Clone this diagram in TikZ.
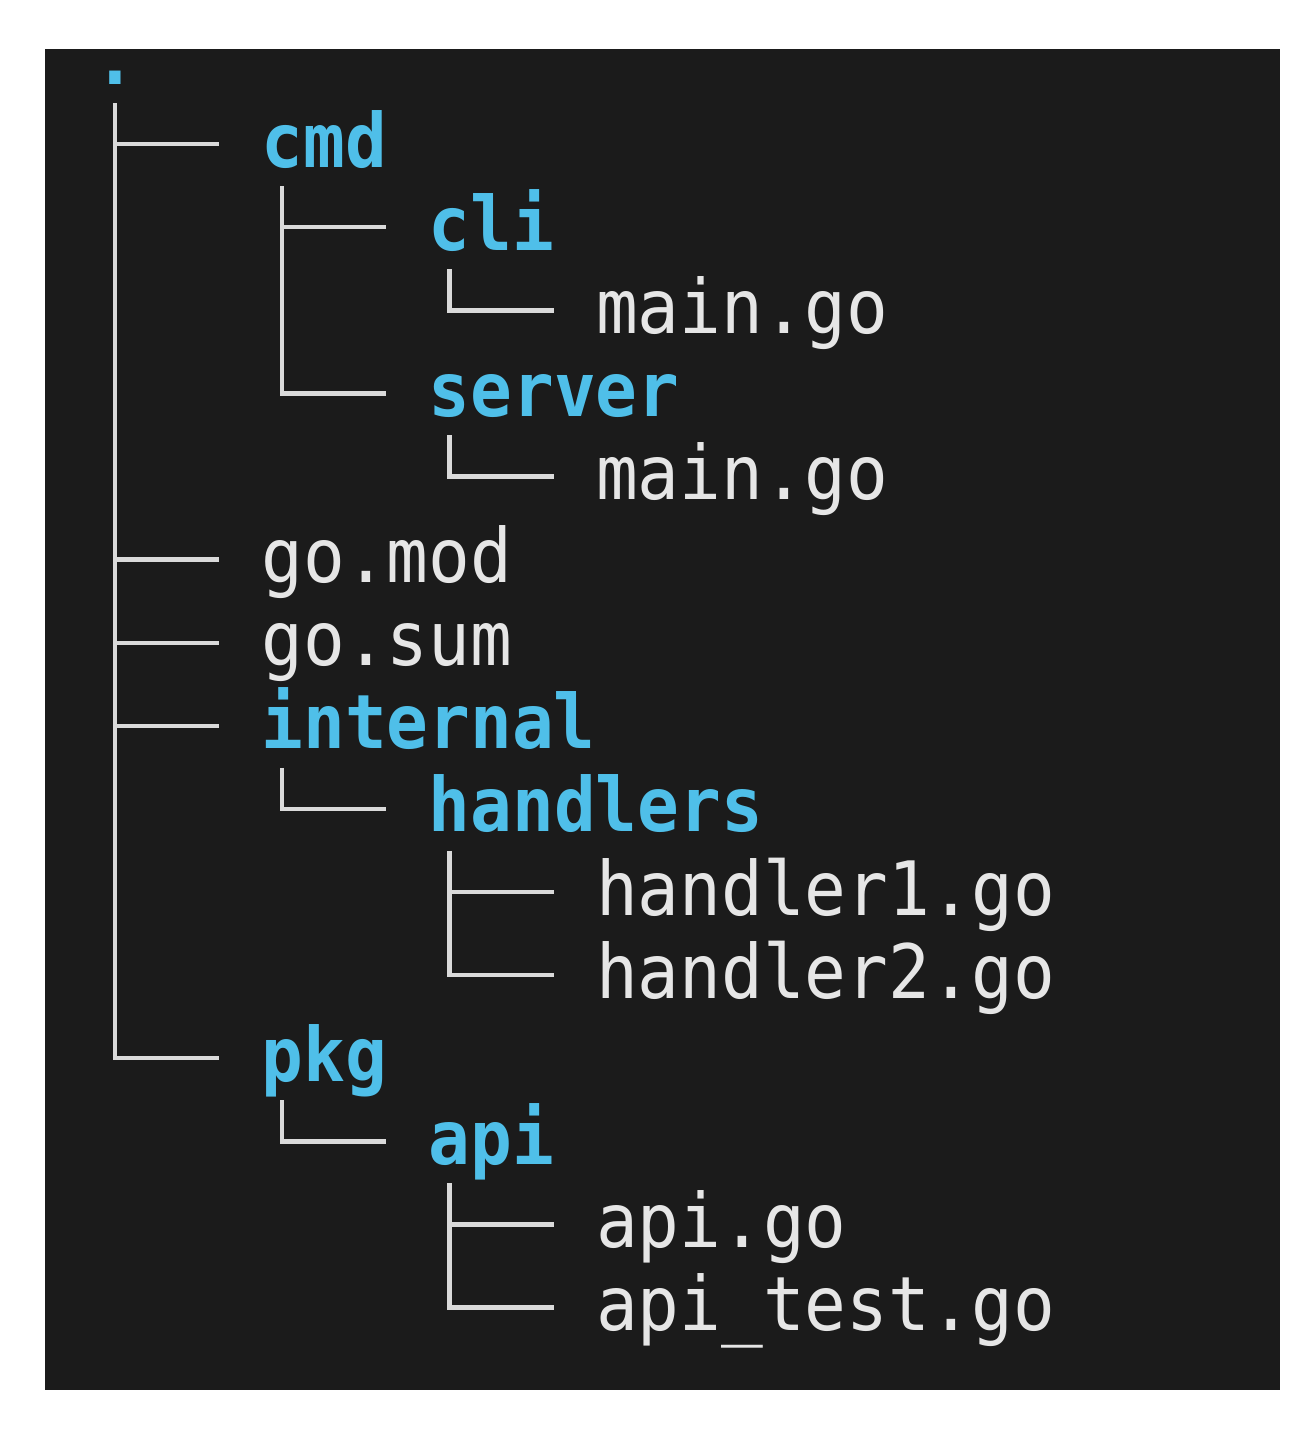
\documentclass[tikz,border=0pt]{standalone}
\usepackage{fontspec}
\newfontfamily\termfont[FakeStretch=0.925]{DejaVu Sans Mono}
\definecolor{termbg}{HTML}{1B1B1B}
\definecolor{dircol}{HTML}{4FBFE9}
\definecolor{filecol}{HTML}{E6E6E6}
\definecolor{linecol}{HTML}{DADADA}
\tikzset{
  entry/.style={anchor=base west, inner sep=0pt, font=\termfont\fontsize{37.5}{45}\selectfont},
  dirname/.style={entry, text=dircol, font=\termfont\bfseries\fontsize{37.5}{45}\selectfont},
  filename/.style={entry, text=filecol},
  branch/.style={draw=linecol, line width=2.2pt}
}
\begin{document}
\begin{tikzpicture}[x=0.5pt,y=-0.5pt]
    \useasboundingbox[fill=white] (0,0) rectangle (1312,1430);
    \fill[termbg] (45,49) rectangle (1280,1390);
    % entries, one per row
    \node[dirname] (root) at (94,84) {.};
    \node[dirname] (cmd) at (261.2,167.1) {cmd};
    \node[dirname] (cli) at (428.4,250.2) {cli};
    \node[filename] (climain) at (595.6,333.3) {main.go};
    \node[dirname] (server) at (428.4,416.4) {server};
    \node[filename] (servermain) at (595.6,499.5) {main.go};
    \node[filename] (gomod) at (261.2,582.6) {go.mod};
    \node[filename] (gosum) at (261.2,665.7) {go.sum};
    \node[dirname] (internal) at (261.2,748.8) {internal};
    \node[dirname] (handlers) at (428.4,831.9) {handlers};
    \node[filename] (handlerone) at (595.6,915.0) {handler1.go};
    \node[filename] (handlertwo) at (595.6,998.1) {handler2.go};
    \node[dirname] (pkg) at (261.2,1081.2) {pkg};
    \node[dirname] (api) at (428.4,1164.3) {api};
    \node[filename] (apigo) at (595.6,1247.4) {api.go};
    \node[filename] (apitest) at (595.6,1330.5) {api\_test.go};
    % tree branches
    \draw[branch] ([shift={(21,19)}]root.base west) |- ([shift={(-42,-23)}]cmd.base west);
    \draw[branch] ([shift={(21,19)}]root.base west) |- ([shift={(-42,-23)}]gomod.base west);
    \draw[branch] ([shift={(21,19)}]root.base west) |- ([shift={(-42,-23)}]gosum.base west);
    \draw[branch] ([shift={(21,19)}]root.base west) |- ([shift={(-42,-23)}]internal.base west);
    \draw[branch] ([shift={(21,19)}]root.base west) |- ([shift={(-42,-23)}]pkg.base west);
    \draw[branch] ([shift={(21,19)}]cmd.base west) |- ([shift={(-42,-23)}]cli.base west);
    \draw[branch] ([shift={(21,19)}]cmd.base west) |- ([shift={(-42,-23)}]server.base west);
    \draw[branch] ([shift={(21,19)}]cli.base west) |- ([shift={(-42,-23)}]climain.base west);
    \draw[branch] ([shift={(21,19)}]server.base west) |- ([shift={(-42,-23)}]servermain.base west);
    \draw[branch] ([shift={(21,19)}]internal.base west) |- ([shift={(-42,-23)}]handlers.base west);
    \draw[branch] ([shift={(21,19)}]handlers.base west) |- ([shift={(-42,-23)}]handlerone.base west);
    \draw[branch] ([shift={(21,19)}]handlers.base west) |- ([shift={(-42,-23)}]handlertwo.base west);
    \draw[branch] ([shift={(21,19)}]pkg.base west) |- ([shift={(-42,-23)}]api.base west);
    \draw[branch] ([shift={(21,19)}]api.base west) |- ([shift={(-42,-23)}]apigo.base west);
    \draw[branch] ([shift={(21,19)}]api.base west) |- ([shift={(-42,-23)}]apitest.base west);
  \end{tikzpicture}
\end{document}
